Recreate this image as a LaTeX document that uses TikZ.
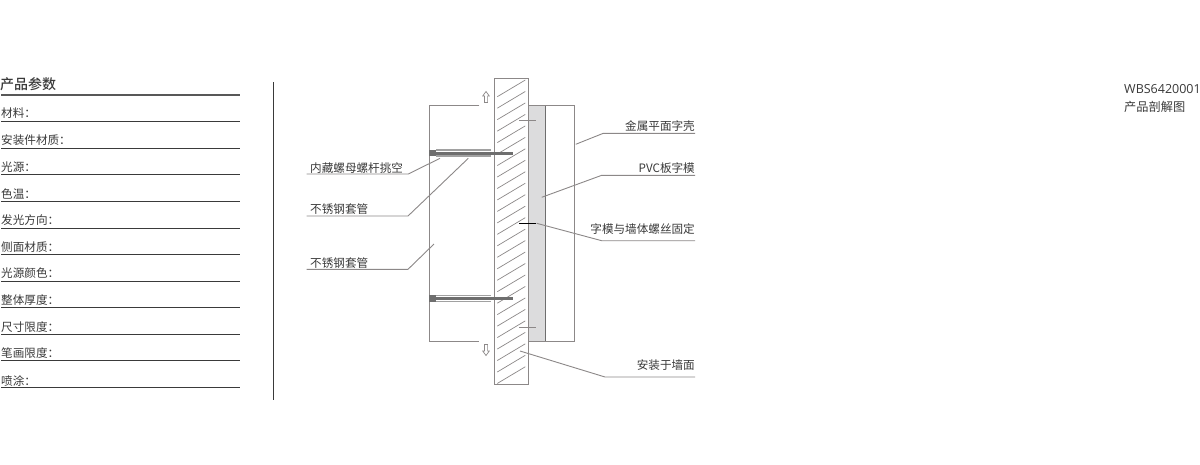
\documentclass[tikz,border=0pt]{standalone}
\usepackage{fontspec}
\setmainfont{Noto Sans CJK SC}
\newfontfamily\wbsfont{Open Sans}
\newfontfamily\headfont{Noto Sans CJK SC Medium}
\definecolor{ink}{HTML}{3A3A3A}
\definecolor{wire}{HTML}{8C8888}
\definecolor{fillgray}{HTML}{DCDCDD}
\definecolor{rod}{HTML}{6E6E6E}
\tikzset{
  x=1pt,y=-1pt,
  rowlabel/.style={font=\fontsize{11.6}{12}\selectfont,text=ink,anchor=west,inner sep=0pt},
  calllabel/.style={font=\fontsize{11.6}{12}\selectfont,text=ink,inner sep=0pt},
  rowrule/.style={draw=ink,line width=1.3pt},
  outline/.style={draw=wire,line width=1pt},
  hatchline/.style={draw=wire,line width=.7pt},
  leader/.style={draw=wire,line width=.9pt},
  tick/.style={draw=wire,line width=.9pt},
  hollow/.style={draw=wire,line width=.7pt,fill=white},
}
\newcommand{\paramrow}[4]{%
  \node[rowlabel] (#1) at (1,#3) {#2};
  \coordinate (#1a) at (1,#4);
  \coordinate (#1b) at (240,#4);
  \draw[rowrule] (#1a) -- (#1b);
}
\begin{document}
\begin{tikzpicture}
\useasboundingbox (0,0) rectangle (1200,464);
\fill[white] (0,0) rectangle (1200,464);

% left parameter table
\node[rowlabel,font=\headfont\fontsize{14}{14}\selectfont] (head) at (0,84) {产品参数};
\coordinate (heada) at (1,95); \coordinate (headb) at (240,95);
\draw[draw=ink!85,line width=1.3pt] (heada) -- (headb);
\paramrow{r1}{材料：}{113.5}{121.5}
\paramrow{r2}{安装件材质：}{140}{148.5}
\paramrow{r3}{光源：}{167}{174.5}
\paramrow{r4}{色温：}{193.5}{201.5}
\paramrow{r5}{发光方向：}{220}{228.5}
\paramrow{r6}{侧面材质：}{247}{254.5}
\paramrow{r7}{光源颜色：}{273.5}{281.5}
\paramrow{r8}{整体厚度：}{300.5}{307.5}
\paramrow{r9}{尺寸限度：}{327}{334.5}
\paramrow{r10}{笔画限度：}{353.5}{360.5}
\paramrow{r11}{喷涂：}{381}{387.5}
\coordinate (divt) at (273.5,82); \coordinate (divb) at (273.5,400);
\draw[draw=ink,line width=1.3pt] (divt) -- (divb);

% layers
\fill[fillgray] (529,105.7) rectangle (545.7,341);
\draw[outline] (528.7,105.7) -- (574.7,105.7) -- (574.7,341) -- (528.7,341);
\draw[outline,draw=rod] (545.7,105.7) -- (545.7,341);
\draw[outline] (494,78) rectangle (528.7,384.3);

% hatching
\foreach \i in {0,...,25}{
  \draw[hatchline] (497.3,96.7+\i*11.47) -- (525.3,80+\i*11.47);
}

% left bracket
\coordinate (bt) at (479.3,105.7); \coordinate (bb) at (479.3,341);
\draw[outline] (bt) -- (429,105.7) -- (429,341) -- (bb);

% hollow arrows
\draw[hollow] (486,91.5) -- (489.3,96) -- (487.6,96) -- (487.6,102.5) -- (484.4,102.5) -- (484.4,96) -- (482.7,96) -- cycle;
\draw[hollow] (486,355.5) -- (489.3,351) -- (487.6,351) -- (487.6,344.5) -- (484.4,344.5) -- (484.4,351) -- (482.7,351) -- cycle;

% rods
\foreach \y in {152.7,298.4}{
  \fill[rod!65] (436,\y-3.4) rectangle (490.5,\y-2.2);
  \fill[rod!65] (436,\y+2.6) rectangle (490.5,\y+4);
  \fill[rod] (436,\y-1.2) rectangle (513,\y+1.8);
  \fill[rod] (429,\y-3) rectangle (436,\y+3.6);
}

% small ticks
\draw[tick] (519.3,120) -- (536,120);
\draw[tick] (519.3,327) -- (536,327);
\draw[draw=black,line width=1.2pt] (519.3,223.3) -- (536,223.3);

% left callouts
\node[calllabel,anchor=west] (l1) at (310,168) {内藏螺母螺杆挑空};
\coordinate (l1s) at (306.7,174); \coordinate (l1k) at (408.3,174); \coordinate (l1e) at (440,158.3);
\draw[leader] (l1s) -- (l1k) -- (l1e);
\node[calllabel,anchor=west] (l2) at (310,209.5) {不锈钢套管};
\coordinate (l2s) at (306.7,216); \coordinate (l2k) at (408,216); \coordinate (l2e) at (468.3,158.3);
\draw[leader] (l2s) -- (l2k) -- (l2e);
\node[calllabel,anchor=west] (l3) at (310,263) {不锈钢套管};
\coordinate (l3s) at (306.7,269.3); \coordinate (l3k) at (408,269.3); \coordinate (l3e) at (434,244);
\draw[leader] (l3s) -- (l3k) -- (l3e);

% right callouts
\node[calllabel,anchor=east] (c1) at (695,126.5) {金属平面字壳};
\coordinate (c1s) at (695,133.3); \coordinate (c1k) at (603.3,133.3); \coordinate (c1e) at (575.7,144.3);
\draw[leader] (c1s) -- (c1k) -- (c1e);
\node[calllabel,anchor=east] (c2) at (695,168.5) {PVC板字模};
\coordinate (c2s) at (695,175.3); \coordinate (c2k) at (601.7,175.3); \coordinate (c2e) at (541.7,197.3);
\draw[leader] (c2s) -- (c2k) -- (c2e);
\node[calllabel,anchor=east] (c3) at (695,229) {字模与墙体螺丝固定};
\coordinate (c3s) at (695,240.7); \coordinate (c3k) at (601.7,240.7); \coordinate (c3e) at (536.7,223.3);
\draw[leader] (c3s) -- (c3k) -- (c3e);
\node[calllabel,anchor=east] (c4) at (695,365.5) {安装于墙面};
\coordinate (c4s) at (695,377); \coordinate (c4k) at (605,377); \coordinate (c4e) at (520,351);
\draw[leader] (c4s) -- (c4k) -- (c4e);

% top right caption
\node[anchor=west,inner sep=0pt,text=ink,font=\wbsfont\fontsize{12.5}{13}\selectfont] (wbs) at (1124,89) {WBS6420001};
\node[anchor=west,inner sep=0pt,text=ink,font=\fontsize{12.2}{13}\selectfont] (cap) at (1124,107) {产品剖解图};
\end{tikzpicture}
\end{document}
